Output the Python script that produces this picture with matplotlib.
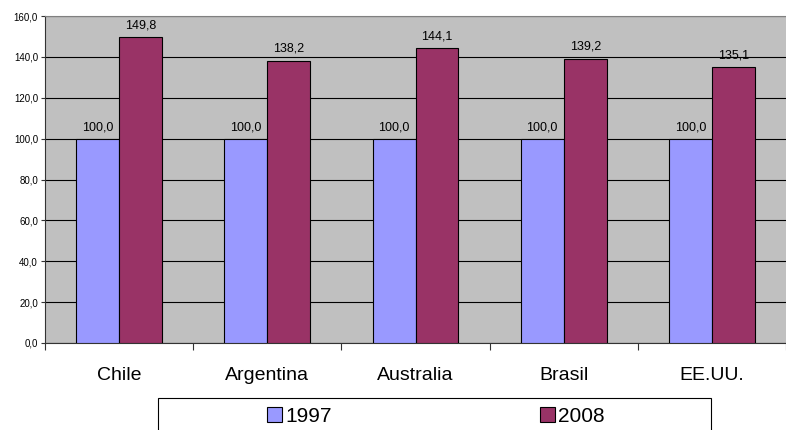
import matplotlib
matplotlib.use("Agg")
import matplotlib.pyplot as plt
from matplotlib.patches import Rectangle
import numpy as np

plt.rcParams['font.family'] = ['Liberation Sans', 'DejaVu Sans']

categories = ["Chile", "Argentina", "Australia", "Brasil", "EE.UU."]
series_names = ["1997", "2008"]
values_1997 = [100.0, 100.0, 100.0, 100.0, 100.0]
values_2008 = [149.8, 138.2, 144.1, 139.2, 135.1]
colors = ["#9999FF", "#993366"]

W, H = 786, 430
fig = plt.figure(figsize=(W / 100, H / 100), dpi=100)
ax = fig.add_axes([45 / W, 1 - 343 / H, (786 - 45) / W, (343 - 16) / H])
ax.set_facecolor("#C0C0C0")

x = np.arange(len(categories))
bw = 0.29
b1 = ax.bar(x - bw / 2, values_1997, bw, color=colors[0], edgecolor="black", linewidth=0.8, label=series_names[0], zorder=3)
b2 = ax.bar(x + bw / 2, values_2008, bw, color=colors[1], edgecolor="black", linewidth=0.8, label=series_names[1], zorder=3)

for bars, vals in ((b1, values_1997), (b2, values_2008)):
    for r, v in zip(bars, vals):
        ax.annotate(f"{v:.1f}".replace(".", ","), (r.get_x() + r.get_width() / 2, v),
                    xytext=(0, 4), textcoords="offset points", ha="center", va="bottom",
                    fontsize=9, zorder=4)

ax.set_xlim(-0.5, len(categories) - 0.5)
ax.set_ylim(0, 160)
yt = np.arange(0, 161, 20)
ax.set_yticks(yt)
ax.set_yticklabels([f"{v:.1f}".replace(".", ",") for v in yt], fontsize=7)
ax.yaxis.grid(True, color="black", linewidth=0.8, zorder=1)
ax.set_axisbelow(True)

ax.set_xticks(np.arange(-0.5, len(categories), 1.0))
ax.set_xticklabels([])
ax.set_xticks(x, minor=True)
ax.set_xticklabels(categories, minor=True, fontsize=14)
ax.tick_params(axis="x", which="minor", length=0, pad=17)
ax.tick_params(axis="x", which="major", length=5, width=0.8, color="#333333", direction="out")
ax.tick_params(axis="y", length=3, width=0.8, color="#333333", direction="out", pad=2)

for s in ("left", "bottom"):
    ax.spines[s].set_color("#333333")
    ax.spines[s].set_linewidth(0.8)
ax.spines["right"].set_visible(False)
ax.spines["top"].set_color("#808080")
ax.spines["top"].set_linewidth(0.8)

# legend frame (extends past bottom edge, as in the reference)
frame = Rectangle((158 / W, 1 - 440 / H), (711 - 158) / W, (440 - 398) / H,
                  transform=fig.transFigure, facecolor="white", edgecolor="black",
                  linewidth=0.8, clip_on=False)
fig.add_artist(frame)

leg = fig.legend(handles=[b1, b2], labels=series_names, loc="center",
                 bbox_to_anchor=(436 / W, 1 - 416 / H), ncol=2, fontsize=15,
                 frameon=False, borderaxespad=0, borderpad=0,
                 handlelength=0.72, handleheight=0.72, handletextpad=0.15,
                 columnspacing=10.0)

fig.savefig("out.png", dpi=100)
